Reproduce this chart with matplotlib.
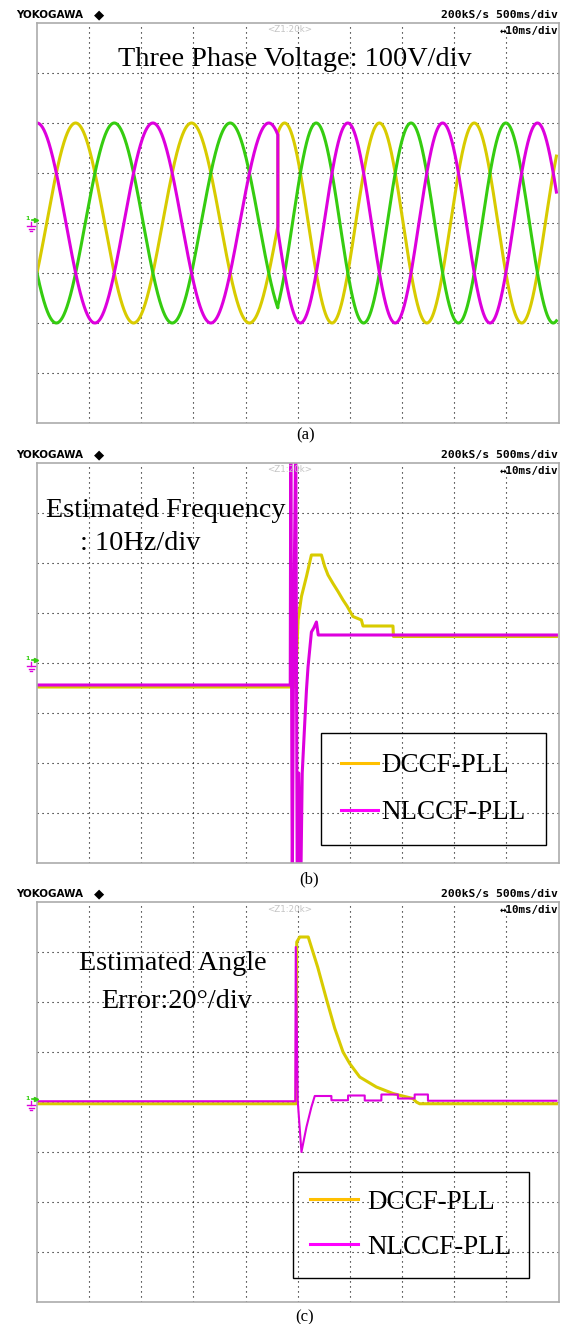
import numpy as np
import matplotlib
matplotlib.use('Agg')
import matplotlib.pyplot as plt
from matplotlib.lines import Line2D

W, H = 562, 1324

# colours of the scope traces
YELLOW = '#D8CB00'
GREEN = '#35CC10'
MAGENTA = '#DD00DD'
LEG_YELLOW = '#FFC000'
LEG_MAGENTA = '#FF00FF'

# ---- panel (a): three phase voltage ----
v_amplitude = 200.0      # V (2 div at 100 V/div)
f_before = 45.0          # Hz, period ~22.2 ms
f_after = 55.0           # Hz, period ~18.1 ms
t_jump = 46.2            # ms, phase/frequency jump
t_peak_after = 59.6      # ms, first magenta peak after the jump
t_end = 99.6             # ms

# ---- panel (b): estimated frequency (ms, Hz) ----
freq_t_dccf = [0, 49.52, 49.71, 50.06, 50.71, 51.67, 52.62, 54.54, 55.17, 55.80, 56.76,
               57.72, 58.68, 59.44, 60.59, 62.20, 62.51, 68.26, 68.35, 99.6]
freq_dccf = [44.6, 44.6, 48.7, 58.0, 62.7, 66.7, 71.0, 71.0, 68.7, 67.0, 65.3,
             63.7, 62.0, 60.8, 58.7, 58.0, 56.8, 56.8, 54.7, 54.7]
freq_t_nlccf = [0, 48.56, 48.66, 48.95, 49.23, 49.62, 49.90, 50.19, 50.57, 50.86, 51.34,
                51.67, 51.97, 52.62, 53.07, 53.58, 53.93, 99.6]
freq_nlccf = [45.0, 45.0, 95.0, 4.0, 57.4, 95.0, 4.0, 27.4, 4.0, 27.4, 37.4,
              44.0, 48.6, 55.6, 56.4, 57.6, 55.0, 55.0]
freq_center = 49.4       # Hz at screen centre, 10 Hz/div

# ---- panel (c): estimated angle error (ms, deg) ----
angle_t_dccf = [0, 49.71, 49.81, 50.38, 52.01, 53.83, 55.56, 57.09, 58.68, 59.96, 61.88,
                65.08, 68.26, 69.54, 72.09, 72.74, 73.37, 99.6]
angle_dccf = [-0.7, -0.7, 64.0, 66.0, 66.0, 53.9, 40.7, 29.5, 20.0, 15.4, 10.0,
              6.0, 3.4, 2.7, 1.4, 0.0, -0.7, -0.7]
angle_t_nlccf = [0, 49.52, 49.62, 50.00, 50.71, 51.67, 52.62, 53.26, 56.45, 56.46, 59.64,
                 59.65, 62.84, 62.85, 66.03, 66.04, 69.21, 69.22, 72.41, 72.42, 74.96, 74.97, 99.6]
angle_nlccf = [0.3, 0.3, 62.0, 0.3, -20.0, -10.0, -2.0, 2.4, 2.4, 0.7, 0.7,
               2.6, 2.6, 0.6, 0.6, 3.0, 3.0, 1.4, 1.4, 3.0, 3.0, 0.5, 0.5]

legend_labels = ['DCCF-PLL', 'NLCCF-PLL']
serif = 'Liberation Serif'


def fx(x):
    return x / W


def fy(y):
    return 1 - y / H


def screen(fig, top, bottom, ylim, left=37, right=558.5):
    ax = fig.add_axes([fx(left), fy(bottom), (right - left) / W, (bottom - top) / H])
    ax.set_xlim(0, 100)
    ax.set_ylim(*ylim)
    ax.set_xticks(np.linspace(10, 90, 9))
    ax.set_yticks(np.linspace(ylim[0], ylim[1], 9)[1:-1])
    ax.grid(True, color='black', linestyle=(0, (1, 3.5)), linewidth=0.8)
    ax.tick_params(length=0, labelbottom=False, labelleft=False)
    for s in ax.spines.values():
        s.set_color('#ababab')
        s.set_linewidth(1.2)

    # scope header
    fig.text(fx(16), fy(top - 8), 'YOKOGAWA', fontsize=7.5, fontweight='bold',
             family='DejaVu Sans', va='center')
    fig.text(fx(94), fy(top - 8), '\u25c6', fontsize=9.5, family='DejaVu Sans', va='center')
    fig.text(fx(558), fy(top - 8), '200kS/s 500ms/div', fontsize=8.2, fontweight='bold',
             family='DejaVu Sans Mono', ha='right', va='center')
    fig.text(fx(558), fy(top + 8), '\u219410ms/div', fontsize=7.8, fontweight='bold',
             family=['DejaVu Sans Mono', 'DejaVu Sans'], ha='right', va='center')
    fig.text(fx(290), fy(top + 7), '<Z1:20k>', fontsize=6.3, color='#c4c4c4',
             family='DejaVu Sans', ha='center', va='center')

    # channel / ground marker at the left of the screen centre
    yc = (top + bottom) / 2
    fig.text(fx(28), fy(yc - 4), '1', fontsize=4.5, color=GREEN, fontweight='bold',
             ha='center', va='center')
    fig.add_artist(Line2D([fx(32), fx(36)], [fy(yc - 3), fy(yc - 3)], color=GREEN, lw=1.2,
                          marker='>', markevery=[1], markersize=3))
    fig.add_artist(Line2D([fx(31), fx(31)], [fy(yc - 1), fy(yc + 3)], color=MAGENTA, lw=1))
    for k, hw in enumerate([4, 2.5, 1]):
        fig.add_artist(Line2D([fx(31 - hw), fx(31 + hw)], [fy(yc + 3 + 2.5 * k)] * 2,
                              color=MAGENTA, lw=1))
    return ax


def add_legend(ax, anchor, handlelength, textpad, borderpad, spacing):
    handles = [Line2D([], [], color=LEG_YELLOW, lw=2.2),
               Line2D([], [], color=LEG_MAGENTA, lw=2.2)]
    leg = ax.legend(handles, legend_labels, loc='upper left', bbox_to_anchor=anchor,
                    borderaxespad=0, frameon=True, fancybox=False, edgecolor='black',
                    facecolor='none', framealpha=1, prop={'family': serif, 'size': 19.5},
                    handlelength=handlelength, handletextpad=textpad,
                    borderpad=borderpad, labelspacing=spacing)
    leg.get_frame().set_linewidth(1.0)
    return leg


fig = plt.figure(figsize=(W / 100, H / 100), dpi=100)

# (a) three phase voltage
ax_a = screen(fig, 23, 423, (-400, 400))
t = np.linspace(0, t_end, 4000)
theta = np.where(t < t_jump, 2 * np.pi * f_before * t / 1000,
                 2 * np.pi * f_after * (t - t_peak_after) / 1000)
ax_a.plot(t, v_amplitude * np.cos(theta - 2 * np.pi / 3), color=YELLOW, lw=2.2)
ax_a.plot(t, v_amplitude * np.cos(theta + 2 * np.pi / 3), color=GREEN, lw=2.2)
ax_a.plot(t, v_amplitude * np.cos(theta), color=MAGENTA, lw=2.2)
fig.text(fx(294.5), fy(66), 'Three Phase Voltage: 100V/div', family=serif, fontsize=20.3,
         ha='center', va='baseline')
fig.text(fx(306), fy(435), '(a)', family=serif, fontsize=12, ha='center', va='center')

# (b) estimated frequency
ax_b = screen(fig, 463, 863, (freq_center - 40, freq_center + 40))
ax_b.plot(freq_t_dccf, freq_dccf, color=YELLOW, lw=2.2)
ax_b.plot(freq_t_nlccf, freq_nlccf, color=MAGENTA, lw=2.2)
fig.text(fx(46), fy(517), 'Estimated Frequency', family=serif, fontsize=20.3, va='baseline')
fig.text(fx(80), fy(550), ': 10Hz/div', family=serif, fontsize=20.3, va='baseline')
add_legend(ax_b, ((321 - 37) / 521.5, 1 - (733 - 463) / 400), 1.37, 0.1, 0.75, 0.8)
fig.text(fx(309), fy(879), '(b)', family=serif, fontsize=12, ha='center', va='center')

# (c) estimated angle error
ax_c = screen(fig, 902, 1302, (-80, 80))
ax_c.plot(angle_t_dccf, angle_dccf, color=YELLOW, lw=2.2)
ax_c.plot(angle_t_nlccf, angle_nlccf, color=MAGENTA, lw=1.5)
fig.text(fx(79), fy(970.5), 'Estimated Angle', family=serif, fontsize=20.3, va='baseline')
fig.text(fx(101), fy(1008), 'Error:20\u00b0/div', family=serif, fontsize=20.3, va='baseline')
add_legend(ax_c, ((292.7 - 37) / 521.5, 1 - (1172 - 902) / 400), 1.75, 0.35, 0.65, 0.75)
fig.text(fx(305), fy(1317), '(c)', family=serif, fontsize=12, ha='center', va='center')

fig.savefig('out.png', dpi=100)
